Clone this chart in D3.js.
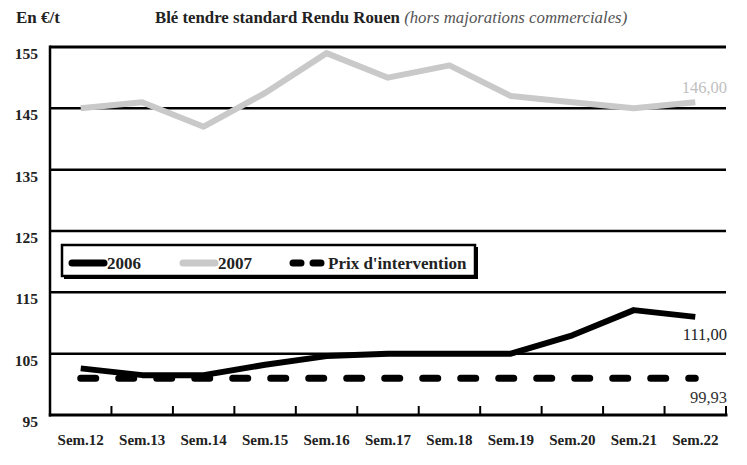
<!DOCTYPE html>
<html><head><meta charset="utf-8">
<script src="https://cdn.jsdelivr.net/npm/d3@7"></script>
<style>body{margin:0;background:#fff}svg{display:block}</style>
</head><body>
<svg id="c" width="747" height="465"></svg>
<script>
const categories = ["Sem.12","Sem.13","Sem.14","Sem.15","Sem.16","Sem.17","Sem.18","Sem.19","Sem.20","Sem.21","Sem.22"];
const values2006 = [102.6,101.5,101.5,103.2,104.6,105,105,105,108,112.1,111];
const values2007 = [145,146,142,147.5,154,150,152,147,146,145,146];
const valuesIntervention = [101,101,101,101,101,101,101,101,101,101,101];
const yTicks = [95,105,115,125,135,145,155];
const endLabels = ["146,00","111,00","99,93"];

const svg = d3.select("#c");
const serif = "'Liberation Serif','DejaVu Serif',serif";
const x = d3.scaleBand().domain(categories).range([50,726]).padding(0);
const y = d3.scaleLinear().domain([95,155]).range([415,47]);
const cx = d => x(d) + x.bandwidth()/2;

// gridlines
svg.append("g").selectAll("line").data(yTicks.filter(t=>t>95)).join("line")
  .attr("x1",50).attr("x2",726).attr("y1",d=>y(d)).attr("y2",d=>y(d))
  .attr("stroke","#000").attr("stroke-width",d=>d===155?3:2.5);

// y axis labels
svg.append("g").selectAll("text").data(yTicks).join("text")
  .attr("x",38).attr("y",d=>y(d)+12).attr("text-anchor","end")
  .attr("font-family",serif).attr("font-weight","bold").attr("font-size",15.5)
  .attr("fill","#222").text(d=>d);

// axes
svg.append("line").attr("x1",50).attr("x2",50).attr("y1",y(155)-1.5).attr("y2",y(95)+1.5)
  .attr("stroke","#000").attr("stroke-width",2.5);
svg.append("line").attr("x1",48.8).attr("x2",727.5).attr("y1",y(95)).attr("y2",y(95))
  .attr("stroke","#000").attr("stroke-width",3);
svg.append("g").selectAll("line").data(categories.slice(1).concat(["end"])).join("line")
  .attr("x1",(d,i)=> i<categories.length-1 ? x(d) : 726).attr("x2",(d,i)=> i<categories.length-1 ? x(d) : 726)
  .attr("y1",y(95)).attr("y2",y(95)-9).attr("stroke","#000").attr("stroke-width",2);

// x labels
svg.append("g").selectAll("text").data(categories).join("text")
  .attr("x",d=>cx(d)).attr("y",445).attr("text-anchor","middle")
  .attr("font-family",serif).attr("font-weight","bold").attr("font-size",15)
  .attr("fill","#222").text(d=>d);

const line = d3.line().x((d,i)=>cx(categories[i])).y(d=>y(d));

svg.append("path").datum(valuesIntervention).attr("d",line).attr("fill","none")
  .attr("stroke","#000").attr("stroke-width",7).attr("stroke-linecap","round")
  .attr("stroke-dasharray","15,23");
svg.append("path").datum(values2007).attr("d",line).attr("fill","none")
  .attr("stroke","#c9c9c9").attr("stroke-width",6).attr("stroke-linejoin","round");
svg.append("path").datum(values2006).attr("d",line).attr("fill","none")
  .attr("stroke","#000").attr("stroke-width",6).attr("stroke-linejoin","round");

// end labels
const lastX = 727;
svg.append("text").attr("x",lastX).attr("y",y(values2007[10])-9).attr("text-anchor","end")
  .attr("font-family",serif).attr("font-size",16.5).attr("fill","#c0c0c0").text(endLabels[0]);
svg.append("text").attr("x",lastX).attr("y",y(values2006[10])+23).attr("text-anchor","end")
  .attr("font-family",serif).attr("font-size",16.5).attr("fill","#222").text(endLabels[1]);
svg.append("text").attr("x",lastX).attr("y",y(valuesIntervention[10])+25).attr("text-anchor","end")
  .attr("font-family",serif).attr("font-size",16.5).attr("fill","#333").text(endLabels[2]);

// legend
const lg = svg.append("g");
lg.append("rect").attr("x",64).attr("y",247).attr("width",414).attr("height",32).attr("fill","#000");
lg.append("rect").attr("x",62).attr("y",245).attr("width",413).attr("height",31)
  .attr("fill","#fff").attr("stroke","#000").attr("stroke-width",2.5);
const legendItems = [
  {label:"2006", color:"#000", dash:null, x0:72},
  {label:"2007", color:"#c9c9c9", dash:null, x0:183},
  {label:"Prix d'intervention", color:"#000", dash:"8,12", x0:293}
];
legendItems.forEach(it=>{
  lg.append("line").attr("x1",it.x0).attr("x2",it.x0+32).attr("y1",263).attr("y2",263)
    .attr("stroke",it.color).attr("stroke-width",7).attr("stroke-linecap","round")
    .attr("stroke-dasharray",it.dash);
  lg.append("text").attr("x",it.x0+35).attr("y",269)
    .attr("font-family",serif).attr("font-weight","bold").attr("font-size",17)
    .attr("fill","#222").text(it.label);
});

// titles
svg.append("text").attr("x",16).attr("y",23).attr("font-family",serif).attr("font-weight","bold")
  .attr("font-size",17).attr("fill","#222").text("En €/t");
const t = svg.append("text").attr("x",155).attr("y",23).attr("font-family",serif).attr("font-size",16.8);
t.append("tspan").attr("font-weight","bold").attr("fill","#222").text("Blé tendre standard Rendu Rouen ");
t.append("tspan").attr("font-style","italic").attr("fill","#555").text("(hors majorations commerciales)");
</script>
</body></html>
